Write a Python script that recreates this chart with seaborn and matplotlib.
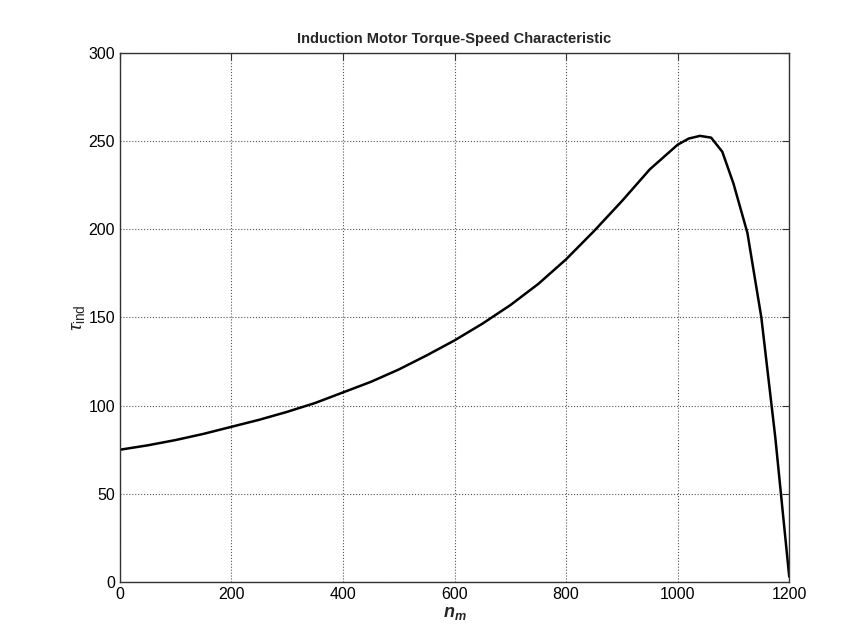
import pandas as pd
import matplotlib
matplotlib.use("Agg")
import matplotlib.pyplot as plt
import seaborn as sns

# values
speed = [0, 50, 100, 150, 200, 250, 300, 350, 400, 450, 500, 550, 600, 650, 700,
         750, 800, 850, 900, 950, 1000, 1020, 1040, 1060, 1080, 1100, 1125, 1150,
         1175, 1200]
torque = [75, 77.5, 80.5, 84, 88, 92, 96.5, 101.5, 107.5, 113.5, 120.5, 128.5,
          137, 146.5, 157, 169, 183, 199, 216, 234, 248, 251.5, 253, 252, 244,
          226, 198, 150, 82, 3]

df = pd.DataFrame({"n_m": speed, "tau_ind": torque})

sns.set_style("white")
plt.rcParams["font.family"] = ["Liberation Sans", "DejaVu Sans"]
plt.rcParams["mathtext.fontset"] = "custom"
plt.rcParams["mathtext.it"] = "Liberation Sans:italic"
plt.rcParams["mathtext.bfit"] = "Liberation Sans:italic:bold"
plt.rcParams["mathtext.rm"] = "Liberation Sans"

fig = plt.figure(figsize=(8.56, 6.44), dpi=100)
ax = fig.add_axes([0.140, 0.0963, 0.782, 0.8214])

sns.lineplot(data=df, x="n_m", y="tau_ind", color="black", linewidth=1.8, ax=ax)

ax.set_xlim(0, 1200)
ax.set_ylim(0, 300)
ax.set_xticks(range(0, 1201, 200))
ax.set_yticks(range(0, 301, 50))
ax.grid(True, linestyle=":", color="#555555", linewidth=0.8)
ax.tick_params(direction="in", top=True, right=True, labelsize=11.5, length=5,
               color="#333333", labelcolor="black")
for s in ax.spines.values():
    s.set_color("#333333")
    s.set_linewidth(1)

ax.set_title("Induction Motor Torque-Speed Characteristic", fontsize=10.5,
             fontweight="bold", pad=7)
ax.set_xlabel(r"$\mathbfit{n}_{\mathbfit{m}}$", fontsize=13, labelpad=2)
ax.set_ylabel(r"$\tau_{\mathrm{ind}}$", fontsize=14, labelpad=1)

fig.savefig("out.png", dpi=100, facecolor="white")
